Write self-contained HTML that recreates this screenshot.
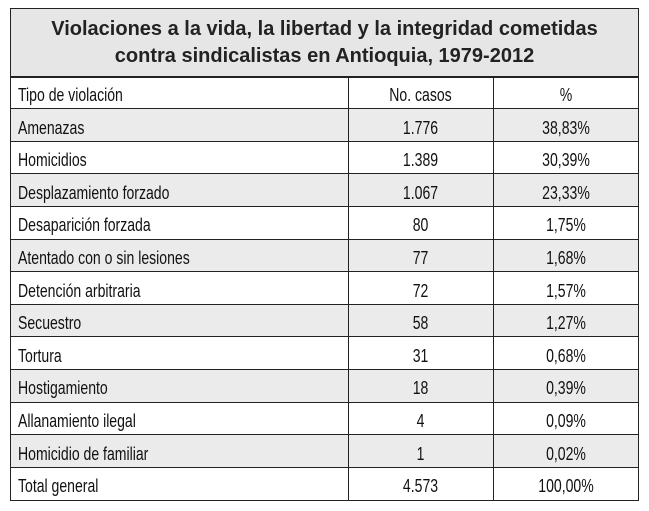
<!DOCTYPE html>
<html><head><meta charset="utf-8"><style>
body{margin:0;width:649px;height:511px;background:#fff;position:relative;font-family:"Liberation Sans",sans-serif;color:#111;overflow:hidden}
.t{position:absolute;left:10px;top:8px;width:629px;height:69px;background:#e6e6e6;border:1.5px solid #222;border-bottom:none;box-sizing:border-box}
.title{position:absolute;left:10px;top:16px;width:629px;text-align:center;font-weight:bold;font-size:20px;line-height:27px;color:#222}
.b{position:absolute;left:10px;width:629px;height:32.6px}
.g{background:#ebebeb}
.h{position:absolute;left:10px;width:629px;height:1px;background:#222}
.c{position:absolute;font-size:18px;line-height:32px;white-space:nowrap;transform:scaleX(0.78);margin-top:1.5px}
.l{left:18px;transform-origin:left center}
.m{left:348px;width:145px;text-align:center}
.p{left:493px;width:146px;text-align:center}
.v{position:absolute;top:76px;height:424px;width:1px;background:#222}
</style></head><body>
<div class="t"></div>
<div class="title">Violaciones a la vida, la libertad y la integridad cometidas<br>contra sindicalistas en Antioquia, 1979-2012</div>
<div class="b g" style="top:108.6px"></div>
<div class="b g" style="top:173.8px"></div>
<div class="b g" style="top:239px"></div>
<div class="b g" style="top:304.2px"></div>
<div class="b g" style="top:369.4px"></div>
<div class="b g" style="top:434.6px"></div>
<div class="h" style="top:76px;height:1.5px"></div>
<div class="h" style="top:108px"></div>
<div class="h" style="top:141px"></div>
<div class="h" style="top:173px"></div>
<div class="h" style="top:206px"></div>
<div class="h" style="top:239px"></div>
<div class="h" style="top:271px"></div>
<div class="h" style="top:304px"></div>
<div class="h" style="top:336px"></div>
<div class="h" style="top:369px"></div>
<div class="h" style="top:402px"></div>
<div class="h" style="top:434px"></div>
<div class="h" style="top:467px"></div>
<div class="h" style="top:499.5px;height:1.5px"></div>
<div class="v" style="left:10px"></div>
<div class="v" style="left:348px"></div>
<div class="v" style="left:493px"></div>
<div class="v" style="left:638px"></div>
<div class="c l" style="top:77px">Tipo de violación</div><div class="c m" style="top:77px">No. casos</div><div class="c p" style="top:77px">%</div>
<div class="c l" style="top:110px">Amenazas</div><div class="c m" style="top:110px">1.776</div><div class="c p" style="top:110px">38,83%</div>
<div class="c l" style="top:142px">Homicidios</div><div class="c m" style="top:142px">1.389</div><div class="c p" style="top:142px">30,39%</div>
<div class="c l" style="top:175px">Desplazamiento forzado</div><div class="c m" style="top:175px">1.067</div><div class="c p" style="top:175px">23,33%</div>
<div class="c l" style="top:207px">Desaparición forzada</div><div class="c m" style="top:207px">80</div><div class="c p" style="top:207px">1,75%</div>
<div class="c l" style="top:240px">Atentado con o sin lesiones</div><div class="c m" style="top:240px">77</div><div class="c p" style="top:240px">1,68%</div>
<div class="c l" style="top:273px">Detención arbitraria</div><div class="c m" style="top:273px">72</div><div class="c p" style="top:273px">1,57%</div>
<div class="c l" style="top:305px">Secuestro</div><div class="c m" style="top:305px">58</div><div class="c p" style="top:305px">1,27%</div>
<div class="c l" style="top:338px">Tortura</div><div class="c m" style="top:338px">31</div><div class="c p" style="top:338px">0,68%</div>
<div class="c l" style="top:370px">Hostigamiento</div><div class="c m" style="top:370px">18</div><div class="c p" style="top:370px">0,39%</div>
<div class="c l" style="top:403px">Allanamiento ilegal</div><div class="c m" style="top:403px">4</div><div class="c p" style="top:403px">0,09%</div>
<div class="c l" style="top:436px">Homicidio de familiar</div><div class="c m" style="top:436px">1</div><div class="c p" style="top:436px">0,02%</div>
<div class="c l" style="top:468px">Total general</div><div class="c m" style="top:468px">4.573</div><div class="c p" style="top:468px">100,00%</div>
</body></html>
